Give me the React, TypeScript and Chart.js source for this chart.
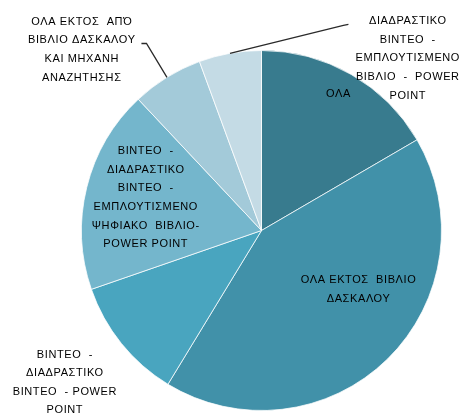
import React, { useEffect, useRef } from "react";
import { Chart, registerables } from "chart.js";

Chart.register(...registerables);

// Categories (line breaks as in the reference labels)
const categories: string[][] = [
  ["ΟΛΑ"],
  ["ΟΛΑ ΕΚΤΟΣ  ΒΙΒΛΙΟ", "ΔΑΣΚΑΛΟΥ"],
  ["ΒΙΝΤΕΟ  -", "ΔΙΑΔΡΑΣΤΙΚΟ", "ΒΙΝΤΕΟ  - POWER", "POINT"],
  ["ΒΙΝΤΕΟ  -", "ΔΙΑΔΡΑΣΤΙΚΟ", "ΒΙΝΤΕΟ  -", "ΕΜΠΛΟΥΤΙΣΜΕΝΟ", "ΨΗΦΙΑΚΟ  ΒΙΒΛΙΟ-", "POWER POINT"],
  ["ΟΛΑ ΕΚΤΟΣ  ΑΠΌ", "ΒΙΒΛΙΟ ΔΑΣΚΑΛΟΥ", "ΚΑΙ ΜΗΧΑΝΗ", "ΑΝΑΖΗΤΗΣΗΣ"],
  ["ΔΙΑΔΡΑΣΤΙΚΟ", "ΒΙΝΤΕΟ  -", "ΕΜΠΛΟΥΤΙΣΜΕΝΟ", "ΒΙΒΛΙΟ  -  POWER", "POINT"],
];

// Share of answers (%)
const values: number[] = [16.6, 42.1, 11.0, 18.3, 6.4, 5.6];

const colors: string[] = ["#387b8e", "#4191a9", "#49a5bf", "#74b6cc", "#a3cad9", "#c4dbe5"];

// Label layout (units of radius)
type Lay =
  | { kind: "in"; frac: number; r: number }
  | { kind: "out"; tx: number; ty: number; leader?: [number, number][] };

const layout: Lay[] = [
  { kind: "in", frac: 0.49, r: 0.87 },
  { kind: "in", frac: 0.407, r: 0.63 },
  { kind: "out", tx: -1.094, ty: 0.844 },
  { kind: "in", frac: 0.53, r: 0.67 },
  { kind: "out", tx: -1.0, ty: -1.005, leader: [[-0.639, -1.039], [-0.667, -1.039]] },
  { kind: "out", tx: 0.811, ty: -0.956, leader: [[0.455, -1.14], [0.483, -1.145]] },
];

const LINE_H = 18.6;

const labelPlugin = {
  id: "pieLabels",
  afterDatasetsDraw(chart: any) {
    const ctx: CanvasRenderingContext2D = chart.ctx;
    const meta = chart.getDatasetMeta(0);
    ctx.save();
    ctx.font = "11px 'Liberation Sans', Arial, sans-serif";
    (ctx as any).letterSpacing = "0.6px";
    ctx.fillStyle = "#000000";
    ctx.textAlign = "center";
    ctx.textBaseline = "middle";
    meta.data.forEach((arc: any, i: number) => {
      const { x, y, startAngle, endAngle, outerRadius } = arc.getProps(
        ["x", "y", "startAngle", "endAngle", "outerRadius"],
        true
      );
      const R = outerRadius;
      const lay = layout[i];
      const lines = categories[i];
      let cx: number, cy: number;
      if (lay.kind === "in") {
        const a = startAngle + (endAngle - startAngle) * lay.frac;
        cx = x + Math.cos(a) * R * lay.r;
        cy = y + Math.sin(a) * R * lay.r;
      } else {
        cx = x + lay.tx * R;
        cy = y + lay.ty * R;
        if (lay.leader) {
          const mid = (startAngle + endAngle) / 2;
          ctx.beginPath();
          ctx.strokeStyle = "#2a2a2a";
          ctx.lineWidth = 1.3;
          ctx.moveTo(x + Math.cos(mid) * R, y + Math.sin(mid) * R);
          lay.leader.forEach(([px, py]) => ctx.lineTo(x + px * R, y + py * R));
          ctx.stroke();
        }
      }
      const top = cy - ((lines.length - 1) * LINE_H) / 2;
      lines.forEach((t, k) => ctx.fillText(t, cx + 0.3, top + k * LINE_H));
    });
    ctx.restore();
  },
};

export default function App() {
  const ref = useRef<HTMLCanvasElement | null>(null);
  useEffect(() => {
    if (!ref.current) return;
    const chart = new Chart(ref.current, {
      type: "pie",
      data: {
        labels: categories.map((c) => c.join(" ")),
        datasets: [
          {
            data: values,
            backgroundColor: colors,
            borderColor: "rgba(255,255,255,0.75)",
            borderWidth: 1,
          },
        ],
      },
      options: {
        animation: false,
        responsive: false,
        maintainAspectRatio: false,
        layout: { padding: { top: 50, bottom: 3, left: 81, right: 20 } },
        plugins: {
          legend: { display: false },
          tooltip: { enabled: false },
        },
      },
      plugins: [labelPlugin],
    });
    return () => chart.destroy();
  }, []);
  return (
    <div style={{ position: "absolute", left: 0, top: 0, width: 462, height: 414, background: "#fff" }}>
      <canvas ref={ref} width={462} height={414} style={{ width: 462, height: 414 }} />
    </div>
  );
}
